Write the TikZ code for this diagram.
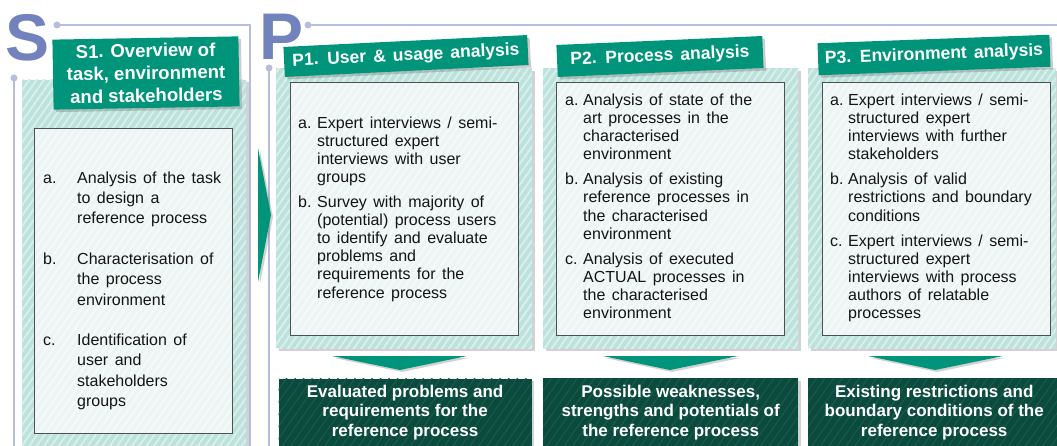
\documentclass[tikz,border=0pt]{standalone}
\usepackage{fontspec}
\setmainfont{Liberation Sans}[WordSpace=1.45]
\newfontfamily\resfont{Liberation Sans}[WordSpace=0.8]
\newfontfamily\plainfont{Liberation Sans}
\usetikzlibrary{patterns.meta,shadows}
\definecolor{framecol}{HTML}{B7BEDD}
\definecolor{panelbg}{HTML}{BCE2DB}
\definecolor{panelstripe}{HTML}{D8EFEB}
\definecolor{innerbg}{HTML}{EDF5F4}
\definecolor{innerstripe}{HTML}{F5FAF9}
\definecolor{innerline}{HTML}{505050}
\definecolor{headgreen}{HTML}{00957A}
\definecolor{resbg}{HTML}{0B4A3C}
\definecolor{resstripe}{HTML}{155B4B}
\definecolor{lettercol}{HTML}{7282BD}
\definecolor{textcol}{HTML}{141414}
\begin{document}
\begin{tikzpicture}[x=1pt,y=-1pt,
  frame/.style={draw=framecol,line width=2.2pt},
  dot/.style={fill=framecol,circle,inner sep=0pt,minimum size=7pt},
  letter/.style={text=lettercol,inner sep=0pt,font=\plainfont\bfseries\fontsize{66}{66}\selectfont},
  panel/.style={anchor=north west,inner sep=0pt,
    drop shadow={opacity=0.35,shadow xshift=2.5pt,shadow yshift=-2.5pt},
    preaction={fill=panelbg},
    pattern={Lines[angle=55,distance=6pt,line width=2pt]},pattern color=panelstripe},
  inner/.style={anchor=north west,inner sep=0pt,draw=innerline,line width=0.9pt,
    preaction={fill=innerbg},
    pattern={Lines[angle=55,distance=6pt,line width=2pt]},pattern color=innerstripe},
  head/.style={fill=headgreen,text=white,inner sep=0pt,align=center,
    drop shadow={opacity=0.4,shadow xshift=2.5pt,shadow yshift=-2.5pt},
    font=\bfseries\fontsize{17.5}{22}\selectfont},
  shead/.style={head,font=\plainfont\bfseries\fontsize{18.5}{22.5}\selectfont},
  res/.style={anchor=north west,inner sep=0pt,text=white,align=center,
    drop shadow={opacity=0.35,shadow xshift=2.5pt,shadow yshift=-2.5pt},
    preaction={fill=resbg},
    pattern={Lines[angle=55,distance=7pt,line width=1.2pt]},pattern color=resstripe,
    font=\resfont\bfseries\fontsize{17}{19.5}\selectfont},
  txt/.style={anchor=north west,inner sep=0pt,text=textcol,font=\fontsize{16}{18.2}\selectfont},
  stxt/.style={txt,font=\fontsize{16}{20.3}\selectfont},
  arr/.style={fill=headgreen,drop shadow={opacity=0.35,shadow xshift=2pt,shadow yshift=-2pt}}
]
\useasboundingbox (0,0) rectangle (1057,446);
\fill[white] (0,0) rectangle (1057,446);

% frames
\node[dot] (sdottop) at (57,25) {};
\node[dot] (sdotleft) at (14,78) {};
\coordinate (scorner) at (250,25);
\coordinate (sbottom) at (250,446);
\coordinate (sleftbottom) at (14,446);
\draw[frame] (sdottop.center) -- (scorner) -- (sbottom);
\draw[frame] (sdotleft.center) -- (sleftbottom);
\node[dot] (pdottop) at (308,25) {};
\node[dot] (pdotleft) at (269,68) {};
\coordinate (pright) at (1057,25);
\coordinate (pleftbottom) at (269,446);
\draw[frame] (pdottop.center) -- (pright);
\draw[frame] (pdotleft.center) -- (pleftbottom);

% letters
\node[letter] (Sletter) at (28,38) {S};
\node[letter] (Pletter) at (282,37) {P};

% S panel
\node[panel,minimum width=224,minimum height=366] (sp) at (21,79) {};
\node[inner,minimum width=198,minimum height=305] (si) at (34,128) {};
\node[shead,rotate=1,minimum width=186,minimum height=70] (sh) at (146,73)
  {S1. Overview of\\task, environment\\and stakeholders};
\node[stxt] (st) at (43,168.8) {%
\begin{tabular}{@{}p{34pt}@{}l@{}}
a. & Analysis of the task\\
   & to design a\\
   & reference process\\[20.3pt]
b. & Characterisation of\\
   & the process\\
   & environment\\[20.3pt]
c. & Identification of\\
   & user and\\
   & stakeholders\\
   & groups
\end{tabular}};

% right arrow
\fill[arr] (258,148) -- (271,215) -- (258,282) -- cycle;

% P1
\node[panel,minimum width=256,minimum height=280] (p1) at (276,68) {};
\node[inner,minimum width=228,minimum height=253] (p1i) at (290,82) {};
\node[head,rotate=2.8,minimum width=244,minimum height=30] (h1) at (406,56) {P1. User \& usage analysis};
\node[txt] (t1) at (298,115.3) {%
\begin{tabular}{@{}p{19pt}@{}l@{}}
a. & Expert interviews / semi-\\
   & structured expert\\
   & interviews with user\\
   & groups\\[6pt]
b. & Survey with majority of\\
   & (potential) process users\\
   & to identify and evaluate\\
   & problems and\\
   & requirements for the\\
   & reference process
\end{tabular}};

% P2
\node[panel,minimum width=255,minimum height=280] (p2) at (543,68) {};
\node[inner,minimum width=228,minimum height=253] (p2i) at (556,82) {};
\node[head,rotate=2.5,minimum width=206,minimum height=32] (h2) at (660,56.5) {P2. Process analysis};
\node[txt] (t2) at (565,92.3) {%
\begin{tabular}{@{}p{18pt}@{}l@{}}
a. & Analysis of state of the\\
   & art processes in the\\
   & characterised\\
   & environment\\[6.7pt]
b. & Analysis of existing\\
   & reference processes in\\
   & the characterised\\
   & environment\\[6.7pt]
c. & Analysis of executed\\
   & ACTUAL processes in\\
   & the characterised\\
   & environment
\end{tabular}};

% P3
\node[panel,minimum width=248,minimum height=280] (p3) at (808,68) {};
\node[inner,minimum width=228,minimum height=253] (p3i) at (822,82) {};
\node[head,rotate=2.1,minimum width=232,minimum height=32] (h3) at (934,55) {P3. Environment analysis};
\node[txt] (t3) at (830,92.3) {%
\begin{tabular}{@{}p{18pt}@{}l@{}}
a. & Expert interviews / semi-\\
   & structured expert\\
   & interviews with further\\
   & stakeholders\\[6.7pt]
b. & Analysis of valid\\
   & restrictions and boundary\\
   & conditions\\[6.7pt]
c. & Expert interviews / semi-\\
   & structured expert\\
   & interviews with process\\
   & authors of relatable\\
   & processes
\end{tabular}};

% down arrows
\fill[arr] (332,356) -- (467,356) -- (400,370) -- cycle;
\fill[arr] (603,356) -- (738,356) -- (670,370) -- cycle;
\fill[arr] (868,356) -- (1003,356) -- (935,370) -- cycle;

% results
\node[res,minimum width=253,minimum height=68] (r1) at (278,378)
  {Evaluated problems and\\requirements for the\\reference process};
\node[res,minimum width=255,minimum height=68] (r2) at (543,378)
  {Possible weaknesses,\\strengths and potentials of\\the reference process};
\node[res,minimum width=252,minimum height=68] (r3) at (808,378)
  {Existing restrictions and\\boundary conditions of the\\reference process};
\end{tikzpicture}
\end{document}
